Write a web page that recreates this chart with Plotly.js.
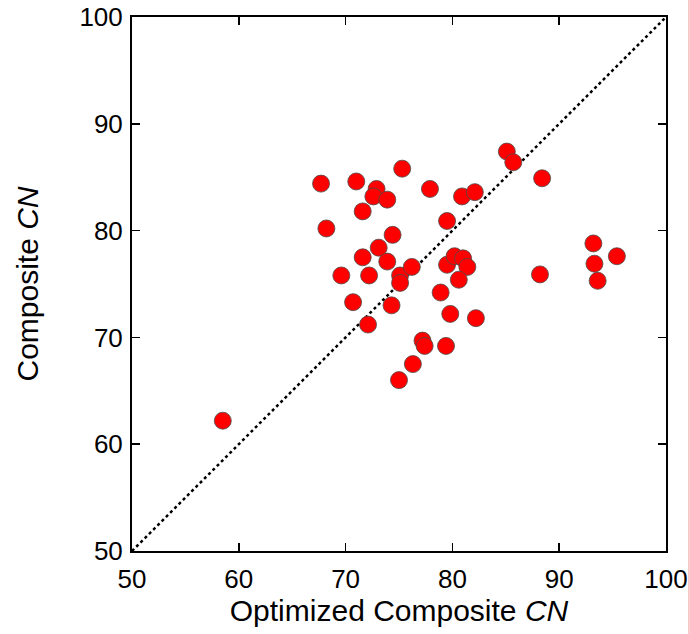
<!DOCTYPE html>
<html>
<head>
<meta charset="utf-8">
<script src="https://cdn.plot.ly/plotly-3.0.1.min.js"></script>
<style>html,body{margin:0;padding:0;background:#fff;}#chart{width:690px;height:634px;}</style>
</head>
<body>
<div id="chart"></div>
<script>
// Optimized Composite CN (x) vs Composite CN (y)
const optimizedCN = [75.3, 67.7, 71.0, 72.9, 72.6, 73.9, 77.9, 80.9, 82.1, 85.1, 85.7,
  71.6, 68.2, 79.5, 74.4, 73.1, 71.6, 73.9, 69.6, 72.2, 75.1, 76.2, 75.1, 79.5, 80.2,
  81.0, 81.4, 80.6, 78.9, 70.7, 74.3, 79.8, 82.2, 72.1, 77.2, 77.4, 79.4, 76.3, 75.0,
  88.4, 93.2, 95.4, 93.3, 93.6, 88.2, 58.5];
const compositeCN = [85.8, 84.4, 84.6, 83.9, 83.2, 82.9, 83.9, 83.2, 83.6, 87.4, 86.4,
  81.8, 80.2, 80.9, 79.6, 78.4, 77.5, 77.1, 75.8, 75.8, 75.8, 76.6, 75.1, 76.8, 77.6,
  77.4, 76.6, 75.4, 74.2, 73.3, 73.0, 72.2, 71.8, 71.2, 69.7, 69.2, 69.2, 67.5, 66.0,
  84.9, 78.8, 77.6, 76.9, 75.3, 75.9, 62.2];
const oneToOne = [50, 100];
const xTicks = [50, 60, 70, 80, 90, 100];
const yTicks = [50, 60, 70, 80, 90, 100];

const font = "Liberation Sans, Arial, Helvetica, sans-serif";

const traces = [
  {
    x: oneToOne, y: oneToOne, mode: 'lines', type: 'scatter',
    line: {color: '#000', width: 2.5, dash: 'dot'}, hoverinfo: 'skip', showlegend: false
  },
  {
    x: optimizedCN, y: compositeCN, mode: 'markers', type: 'scatter',
    marker: {size: 17, color: '#ff0000', line: {color: '#4a4a4a', width: 0.8}},
    showlegend: false
  }
];

const axisCommon = {
  showgrid: false, zeroline: false, showline: true, linecolor: '#000', linewidth: 2,
  ticks: 'inside', ticklen: 8, tickwidth: 1.5, tickcolor: '#000', mirror: 'allticks',
  tickfont: {family: font, size: 26, color: '#000'}, fixedrange: true
};

const layout = {
  width: 690, height: 634,
  margin: {l: 132, r: 24, t: 17, b: 83, pad: 0},
  paper_bgcolor: '#fff', plot_bgcolor: '#fff',
  showlegend: false,
  xaxis: Object.assign({}, axisCommon, {
    range: [50, 100], tickvals: xTicks, ticktext: xTicks.map(String),
    ticklabelstandoff: 4,
    title: {text: 'Optimized Composite <i>CN</i>', font: {family: font, size: 30, color: '#000'}, standoff: 7}
  }),
  yaxis: Object.assign({}, axisCommon, {
    range: [50, 100], tickvals: yTicks, ticktext: yTicks.map(String),
    ticklabelstandoff: 2,
    title: {text: 'Composite <i>CN</i>', font: {family: font, size: 30, color: '#000'}, standoff: 32}
  }),
  shapes: [{
    type: 'line', xref: 'paper', yref: 'paper',
    x0: 1.043, x1: 1.043, y0: -0.16, y1: 1.04,
    line: {color: '#f29a9a', width: 1}
  }]
};

Plotly.newPlot('chart', traces, layout, {displayModeBar: false, staticPlot: true});
</script>
</body>
</html>
